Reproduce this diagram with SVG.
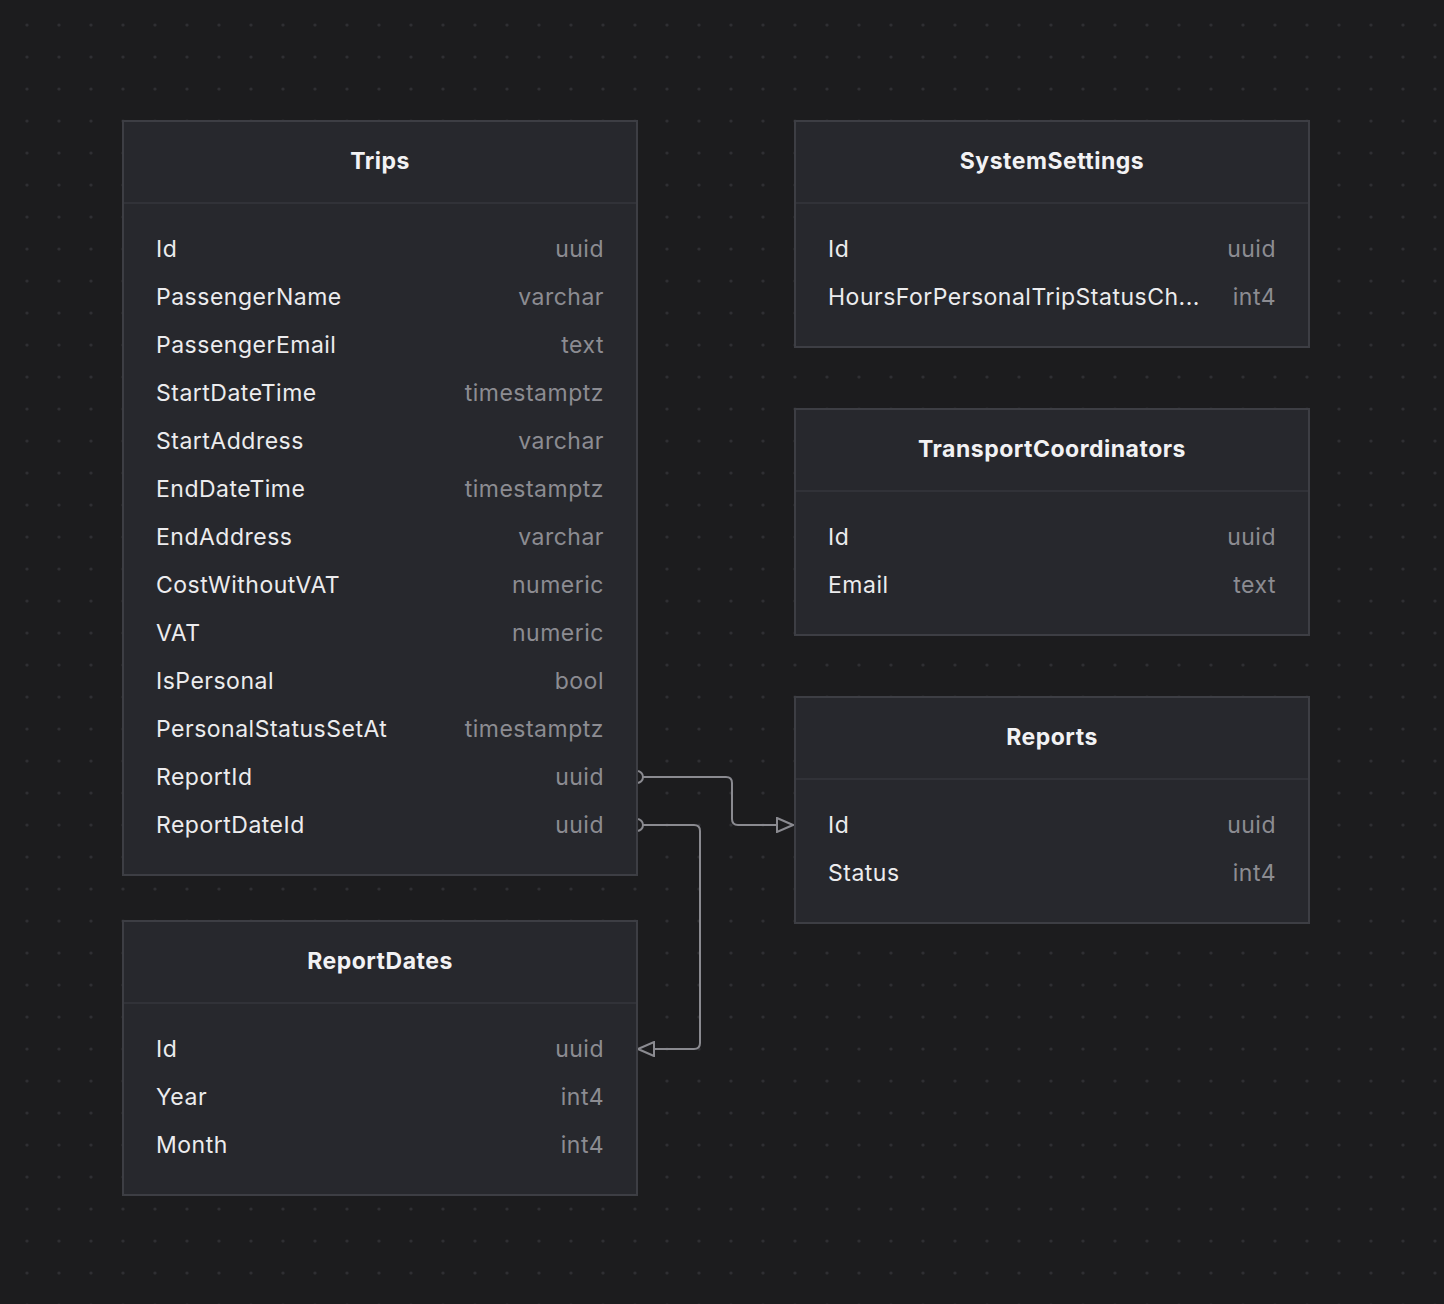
<svg xmlns="http://www.w3.org/2000/svg" width="1444" height="1304" viewBox="0 0 1444 1304">
<defs>
<pattern id="dots" x="11" y="9" width="32" height="32" patternUnits="userSpaceOnUse">
<circle cx="16" cy="16" r="1.6" fill="#2f2f33"/>
</pattern>
<marker id="tri" viewBox="0 0 18 16" refX="17" refY="8" markerWidth="18" markerHeight="16" markerUnits="userSpaceOnUse" orient="auto">
<path d="M1,1 L17,8 L1,15 Z" fill="#1c1c1e" stroke="#8a8a90" stroke-width="2" stroke-linejoin="miter"/>
</marker>
</defs>
<style>
.box{fill:#27282d;stroke:#3d3e44;stroke-width:2}
.div{stroke:#313238;stroke-width:2}
.title{font-family:Inter,"Liberation Sans",sans-serif;font-size:23px;font-weight:700;fill:#f2f2f4;text-anchor:middle;letter-spacing:0.5px}
.name{font-family:Inter,"Liberation Sans",sans-serif;font-size:23px;fill:#ececee;letter-spacing:0.5px}
.type{font-family:Inter,"Liberation Sans",sans-serif;font-size:23px;fill:#8c8c92;text-anchor:end;letter-spacing:0.5px}
.conn{fill:none;stroke:#8a8a90;stroke-width:2}
</style>
<rect width="1444" height="1304" fill="#1c1c1e"/>
<rect width="1444" height="1304" fill="url(#dots)"/>

<g id="connectors">
<path class="conn" d="M637,771 A6,6 0 0 1 637,783"/>
<path class="conn" d="M643,777 H726 Q732,777 732,783 V819 Q732,825 738,825 H793" marker-end="url(#tri)"/>
<path class="conn" d="M637,819 A6,6 0 0 1 637,831"/>
<path class="conn" d="M643,825 H694 Q700,825 700,831 V1043 Q700,1049 694,1049 H638" marker-end="url(#tri)"/>
</g>

<g id="Trips">
<rect class="box" x="123" y="121" width="514" height="754"/>
<line class="div" x1="124" y1="203" x2="636" y2="203"/>
<text class="title" x="380" y="169">Trips</text>
<text class="name" x="156" y="257">Id</text><text class="type" x="604" y="257">uuid</text>
<text class="name" x="156" y="305">PassengerName</text><text class="type" x="604" y="305">varchar</text>
<text class="name" x="156" y="353">PassengerEmail</text><text class="type" x="604" y="353">text</text>
<text class="name" x="156" y="401">StartDateTime</text><text class="type" x="604" y="401">timestamptz</text>
<text class="name" x="156" y="449">StartAddress</text><text class="type" x="604" y="449">varchar</text>
<text class="name" x="156" y="497">EndDateTime</text><text class="type" x="604" y="497">timestamptz</text>
<text class="name" x="156" y="545">EndAddress</text><text class="type" x="604" y="545">varchar</text>
<text class="name" x="156" y="593">CostWithoutVAT</text><text class="type" x="604" y="593">numeric</text>
<text class="name" x="156" y="641">VAT</text><text class="type" x="604" y="641">numeric</text>
<text class="name" x="156" y="689">IsPersonal</text><text class="type" x="604" y="689">bool</text>
<text class="name" x="156" y="737">PersonalStatusSetAt</text><text class="type" x="604" y="737">timestamptz</text>
<text class="name" x="156" y="785">ReportId</text><text class="type" x="604" y="785">uuid</text>
<text class="name" x="156" y="833">ReportDateId</text><text class="type" x="604" y="833">uuid</text>
</g>

<g id="ReportDates">
<rect class="box" x="123" y="921" width="514" height="274"/>
<line class="div" x1="124" y1="1003" x2="636" y2="1003"/>
<text class="title" x="380" y="969">ReportDates</text>
<text class="name" x="156" y="1057">Id</text><text class="type" x="604" y="1057">uuid</text>
<text class="name" x="156" y="1105">Year</text><text class="type" x="604" y="1105">int4</text>
<text class="name" x="156" y="1153">Month</text><text class="type" x="604" y="1153">int4</text>
</g>

<g id="SystemSettings">
<rect class="box" x="795" y="121" width="514" height="226"/>
<line class="div" x1="796" y1="203" x2="1308" y2="203"/>
<text class="title" x="1052" y="169">SystemSettings</text>
<text class="name" x="828" y="257">Id</text><text class="type" x="1276" y="257">uuid</text>
<text class="name" x="828" y="305">HoursForPersonalTripStatusCh...</text><text class="type" x="1276" y="305">int4</text>
</g>

<g id="TransportCoordinators">
<rect class="box" x="795" y="409" width="514" height="226"/>
<line class="div" x1="796" y1="491" x2="1308" y2="491"/>
<text class="title" x="1052" y="457">TransportCoordinators</text>
<text class="name" x="828" y="545">Id</text><text class="type" x="1276" y="545">uuid</text>
<text class="name" x="828" y="593">Email</text><text class="type" x="1276" y="593">text</text>
</g>

<g id="Reports">
<rect class="box" x="795" y="697" width="514" height="226"/>
<line class="div" x1="796" y1="779" x2="1308" y2="779"/>
<text class="title" x="1052" y="745">Reports</text>
<text class="name" x="828" y="833">Id</text><text class="type" x="1276" y="833">uuid</text>
<text class="name" x="828" y="881">Status</text><text class="type" x="1276" y="881">int4</text>
</g>
</svg>
